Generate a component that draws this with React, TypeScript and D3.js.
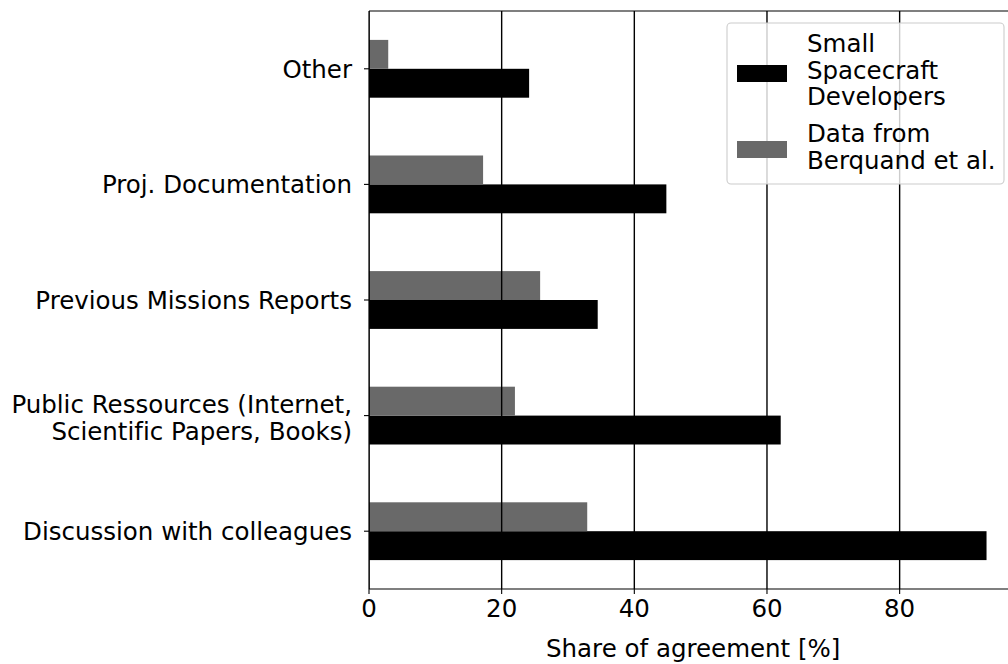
import React from "react";
import * as d3 from "d3";

// Survey categories, bottom to top
const categories: string[][] = [
  ["Discussion with colleagues"],
  ["Public Ressources (Internet,", "Scientific Papers, Books)"],
  ["Previous Missions Reports"],
  ["Proj. Documentation"],
  ["Other"],
];
// Share of agreement [%]
const smallSpacecraft: number[] = [93.1, 62.07, 34.48, 44.83, 24.14];
const berquand: number[] = [32.9, 22.0, 25.8, 17.2, 2.9];
const xTicks: number[] = [0, 20, 40, 60, 80];
const seriesNames: string[][] = [
  ["Small", "Spacecraft", "Developers"],
  ["Data from", "Berquand et al."],
];

const W = 1008;
const H = 664;
const FONT = "'DejaVu Sans', sans-serif";
const FS = 24.5;

export default function App() {
  const left = 369;
  const top = 11;
  const bottom = 589;
  const xMax = d3.max(smallSpacecraft)! * 1.05;
  const x = d3.scaleLinear().domain([0, xMax]).range([left, left + xMax * 6.633]);
  const y = d3.scaleLinear().domain([-0.5, categories.length - 0.5]).range([bottom, top]);
  const barH = 0.25;
  const colors = ["#000000", "#696969"];

  return (
    <svg
      width={W}
      height={H}
      style={{ position: "fixed", left: 0, top: 0, background: "#fff", fontVariantLigatures: "none" }}
      fontFamily={FONT}
      fontSize={FS}
    >
      <defs>
        <clipPath id="plot">
          <rect x={left} y={top} width={x(xMax) - left} height={bottom - top} />
        </clipPath>
      </defs>
      <g clipPath="url(#plot)">
        {categories.map((_, i) => (
          <g key={i}>
            <rect
              x={x(0)}
              y={y(i)}
              width={x(smallSpacecraft[i]) - x(0)}
              height={y(i - barH) - y(i)}
              fill={colors[0]}
            />
            <rect
              x={x(0)}
              y={y(i + barH)}
              width={x(berquand[i]) - x(0)}
              height={y(i) - y(i + barH)}
              fill={colors[1]}
            />
          </g>
        ))}
        {xTicks.map((t) => (
          <line key={t} x1={x(t)} x2={x(t)} y1={top} y2={bottom} stroke="#000" strokeWidth={1.4} />
        ))}
      </g>
      {/* spines */}
      <line x1={left} x2={left} y1={top} y2={bottom} stroke="#000" strokeWidth={1.2} />
      <line x1={left} x2={W} y1={top} y2={top} stroke="#000" strokeWidth={1.2} />
      <line x1={left} x2={W} y1={bottom} y2={bottom} stroke="#000" strokeWidth={1.2} />
      {/* x axis */}
      {xTicks.map((t) => (
        <g key={t}>
          <line x1={x(t)} x2={x(t)} y1={bottom} y2={bottom + 5} stroke="#000" strokeWidth={1.1} />
          <text x={x(t)} y={616.5} textAnchor="middle" fill="#000">
            {t}
          </text>
        </g>
      ))}
      <text x={(left + x(xMax)) / 2} y={657} textAnchor="middle" fill="#000">
        Share of agreement [%]
      </text>
      {/* y axis */}
      {categories.map((lines, i) => {
        const yc = y(i);
        const first = lines.length > 1 ? yc - 3 : yc + 9;
        return (
          <g key={i}>
            <line x1={left - 5} x2={left} y1={yc} y2={yc} stroke="#000" strokeWidth={1.1} />
            {lines.map((l, j) => (
              <text key={j} x={352} y={first + j * 27} textAnchor="end" fill="#000">
                {l}
              </text>
            ))}
          </g>
        );
      })}
      {/* legend */}
      <rect x={727} y={23} width={277} height={161} rx={4} fill="#fff" fillOpacity={0.8} stroke="#cccccc" strokeWidth={1.1} />
      <rect x={737} y={65} width={50} height={17} fill={colors[0]} />
      <rect x={737} y={141} width={50} height={17} fill={colors[1]} />
      {seriesNames[0].map((l, j) => (
        <text key={"a" + j} x={807} y={52 + j * 26.7} fill="#000">
          {l}
        </text>
      ))}
      {seriesNames[1].map((l, j) => (
        <text key={"b" + j} x={807} y={142 + j * 26.7} fill="#000">
          {l}
        </text>
      ))}
    </svg>
  );
}
